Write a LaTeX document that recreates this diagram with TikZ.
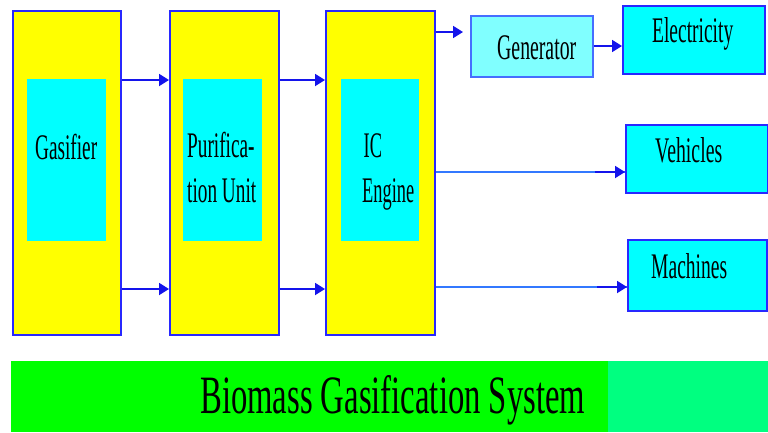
\documentclass[tikz,border=0pt]{standalone}
\usepackage{fontspec}
\setmainfont{Liberation Serif}
\usepackage{graphicx}
\usetikzlibrary{arrows.meta}
\definecolor{bxblue}{RGB}{40,40,255}
\definecolor{genblue}{RGB}{70,110,255}
\definecolor{arblue}{RGB}{20,20,235}
\definecolor{lnblue}{RGB}{50,120,255}
\definecolor{gencyan}{RGB}{128,255,255}
\definecolor{boxcyan}{RGB}{0,255,255}
\definecolor{boxyellow}{RGB}{255,255,0}
\definecolor{sgreen}{RGB}{0,255,128}
\definecolor{pgreen}{RGB}{0,255,0}
\begin{document}
\begin{tikzpicture}[x=1pt,y=-1pt,
  ybox/.style={draw=bxblue,line width=1.5pt,fill=boxyellow,anchor=north west,inner sep=0pt},
  cbox/.style={fill=boxcyan,anchor=north west,inner sep=0pt},
  obox/.style={draw=bxblue,line width=1.5pt,fill=boxcyan,anchor=north west,inner sep=0pt},
  lbl/.style={anchor=base west,inner sep=0pt,font=\fontsize{36}{45}\selectfont},
  arr/.style={draw=arblue,line width=1.8pt,-{Triangle[length=10pt,width=12pt]}},
  lnline/.style={draw=lnblue,line width=1.2pt}
]
\fill[white] (0,0) rectangle (768,432);
\useasboundingbox (0,0) rectangle (768,432);

% main yellow blocks
\node[ybox,minimum width=108pt,minimum height=324pt] (gas) at (12,10) {};
\node[ybox,minimum width=109pt,minimum height=324pt] (pur) at (169,10) {};
\node[ybox,minimum width=109pt,minimum height=324pt] (ic) at (325,10) {};
% inner cyan blocks
\node[cbox,minimum width=79pt,minimum height=162pt] (gasin) at (27,79) {};
\node[cbox,minimum width=79pt,minimum height=162pt] (purin) at (183,79) {};
\node[cbox,minimum width=78pt,minimum height=162pt] (icin) at (341,79) {};
% output blocks
\node[draw=genblue,line width=1.5pt,fill=gencyan,anchor=north west,inner sep=0pt,minimum width=122pt,minimum height=61pt] (gen) at (470,15) {};
\node[obox,minimum width=142pt,minimum height=68pt] (elec) at (622,5) {};
\node[obox,minimum width=142pt,minimum height=68pt] (veh) at (625,124) {};
\node[obox,minimum width=139pt,minimum height=71pt] (mach) at (627,239) {};

% labels
\node[lbl] (tgas) at (35,159) {\resizebox{62pt}{\height}{Gasifier}};
\node[lbl] (tpur) at (187,157) {\resizebox{69pt}{\height}{\begin{tabular}[t]{@{}l@{}}Purifica-\\tion Unit\end{tabular}}};
\node[lbl] (tic) at (362,157) {\resizebox{52pt}{\height}{\begin{tabular}[t]{@{}l@{}}\hspace{3pt}IC\\Engine\end{tabular}}};
\node[lbl] (tgen) at (497,59) {\resizebox{79pt}{\height}{Generator}};
\node[lbl] (telec) at (652,42) {\resizebox{81pt}{\height}{Electricity}};
\node[lbl] (tveh) at (655,162) {\resizebox{67pt}{\height}{Vehicles}};
\node[lbl] (tmach) at (651,278) {\resizebox{76pt}{\height}{Machines}};

% connector heights
\coordinate (yA) at (0,80);
\coordinate (yB) at (0,289);
\coordinate (yG) at (0,32);
\coordinate (yE) at (0,46);
\coordinate (yV) at (0,172);
\coordinate (yM) at (0,287);

\draw[arr] (gas.east |- yA) -- (pur.west |- yA);
\draw[arr] (gas.east |- yB) -- (pur.west |- yB);
\draw[arr] (pur.east |- yA) -- (ic.west |- yA);
\draw[arr] (pur.east |- yB) -- (ic.west |- yB);
\draw[arr,shorten >=7pt] (ic.east |- yG) -- (gen.west |- yG);
\draw[arr] (gen.east |- yE) -- (elec.west |- yE);
\draw[lnline] (ic.east |- yV) -- (veh.west |- yV);
\draw[arr] ([xshift=-30pt]veh.west |- yV) -- (veh.west |- yV);
\draw[lnline] (ic.east |- yM) -- (mach.west |- yM);
\draw[arr] ([xshift=-30pt]mach.west |- yM) -- (mach.west |- yM);

% title band
\fill[pgreen] (11,361) rectangle (608,432);
\fill[sgreen] (608,361) rectangle (768,432);
\node[anchor=base west,inner sep=0pt,font=\fontsize{54}{60}\selectfont] (title) at (200,413) {\resizebox{385pt}{\height}{Biomass Gasification System}};
\end{tikzpicture}
\end{document}
